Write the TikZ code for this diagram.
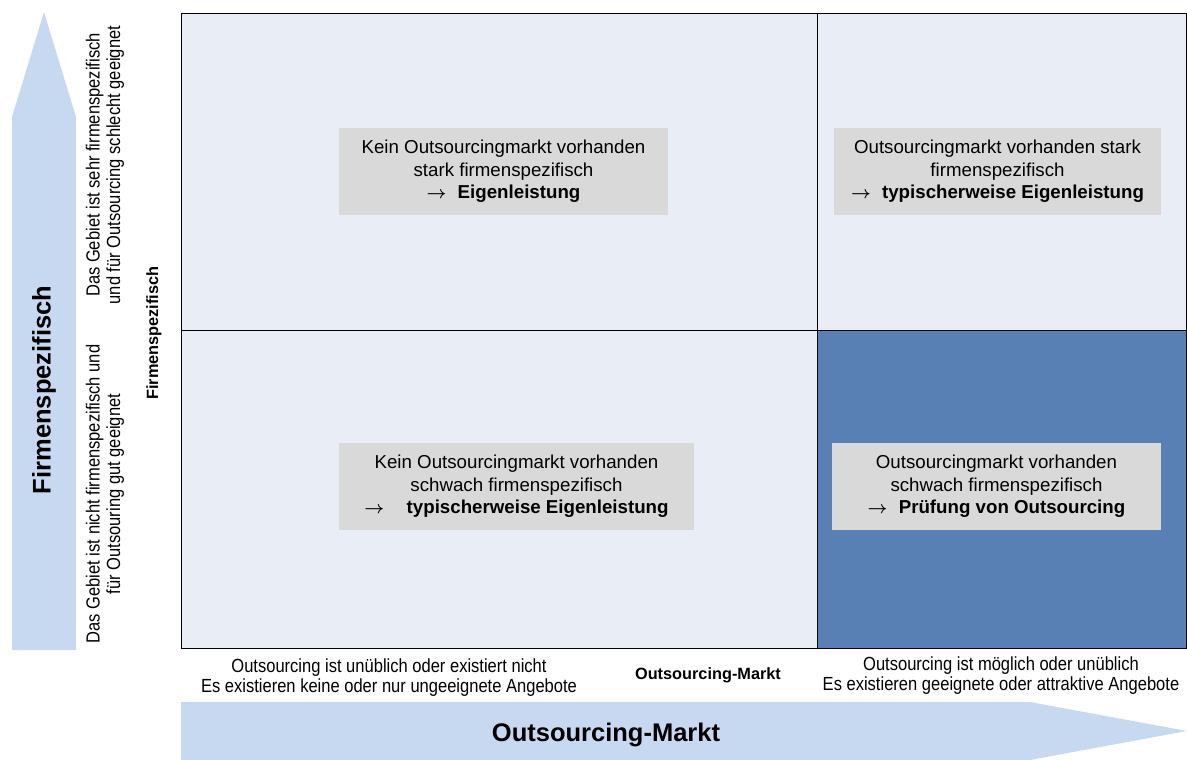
\documentclass[tikz,border=0pt]{standalone}
\usepackage{fontspec}
\setmainfont{Liberation Sans}
\newfontfamily\narrowfont[FakeStretch=0.87]{Liberation Sans}
\definecolor{pfeilblau}{RGB}{198,217,241}
\definecolor{feldhell}{RGB}{233,237,245}
\definecolor{felddunkel}{RGB}{89,128,180}
\definecolor{boxgrau}{RGB}{217,217,217}
\newcommand{\folgt}{{\boldmath$\rightarrow$}}
\tikzset{
  kasten/.style={fill=boxgrau, align=center, inner sep=0pt, minimum height=87pt,
    font=\fontsize{18.7}{22.5}\selectfont},
  achse/.style={align=center, inner sep=0pt, font=\narrowfont\fontsize{19}{20.5}\selectfont},
  titel/.style={inner sep=0pt, font=\bfseries\fontsize{25.5}{30}\selectfont},
  untertitel/.style={inner sep=0pt, font=\bfseries\fontsize{16.3}{19}\selectfont},
}
\begin{document}
\begin{tikzpicture}[x=1pt,y=-1pt]
	\useasboundingbox (0,0) rectangle (1187,760);
	% Pfeile
	\fill[pfeilblau] (12,650) -- (12,117) -- (44,12) -- (76,117) -- (76,650) -- cycle;
	\fill[pfeilblau] (181,702) -- (1030,702) -- (1187,731) -- (1030,760) -- (181,760) -- cycle;
	\node[titel, rotate=90] (firmatitel) at (44,390) {Firmenspezifisch};
	\node[titel] (markttitel) at (606,735) {Outsourcing-Markt};

	% Felder
	\fill[feldhell] (181,14) rectangle (1187,648);
	\fill[felddunkel] (817,330) rectangle (1187,648);
	\draw[line width=1pt] (181,14) rectangle (1186.5,648);
	\draw[line width=1pt] (817,14) -- (817,648);
	\draw[line width=1pt] (181,330) -- (1186.5,330);

	\node[kasten, minimum width=329pt] (feldA) at (503.5,171.5)
		{Kein Outsourcingmarkt vorhanden\\ stark firmenspezifisch\\ \folgt\hspace{0.6em}\textbf{Eigenleistung}};
	\node[kasten, minimum width=327pt] (feldB) at (997.5,171.5)
		{Outsourcingmarkt vorhanden stark\\ firmenspezifisch\\ \folgt\hspace{0.6em}\textbf{typischerweise Eigenleistung}};
	\node[kasten, minimum width=355pt] (feldC) at (516.5,486.5)
		{Kein Outsourcingmarkt vorhanden\\ schwach firmenspezifisch\\ \folgt\hspace{1.2em}\textbf{typischerweise Eigenleistung}};
	\node[kasten, minimum width=329pt] (feldD) at (996.5,486.5)
		{Outsourcingmarkt vorhanden\\ schwach firmenspezifisch\\ \folgt\hspace{0.6em}\textbf{Prüfung von Outsourcing}};

	% Beschriftung links
	\node[achse, rotate=90] (firmahoch) at (105,165)
		{Das Gebiet ist sehr firmenspezifisch\\ und für Outsourcing schlecht geeignet};
	\node[achse, rotate=90] (firmaniedrig) at (105,494)
		{Das Gebiet ist nicht firmenspezifisch und\\ für Outsouring gut geeignet};
	\node[untertitel, rotate=90] (firmaklein) at (154,333) {Firmenspezifisch};

	% Beschriftung unten
	\node[achse] (marktniedrig) at (389,677.5)
		{Outsourcing ist unüblich oder existiert nicht\\ Es existieren keine oder nur ungeeignete Angebote};
	\node[achse] (markthoch) at (1001,675.5)
		{Outsourcing ist möglich oder unüblich\\ Es existieren geeignete oder attraktive Angebote};
	\node[untertitel] (marktklein) at (708,675) {Outsourcing-Markt};
\end{tikzpicture}
\end{document}
